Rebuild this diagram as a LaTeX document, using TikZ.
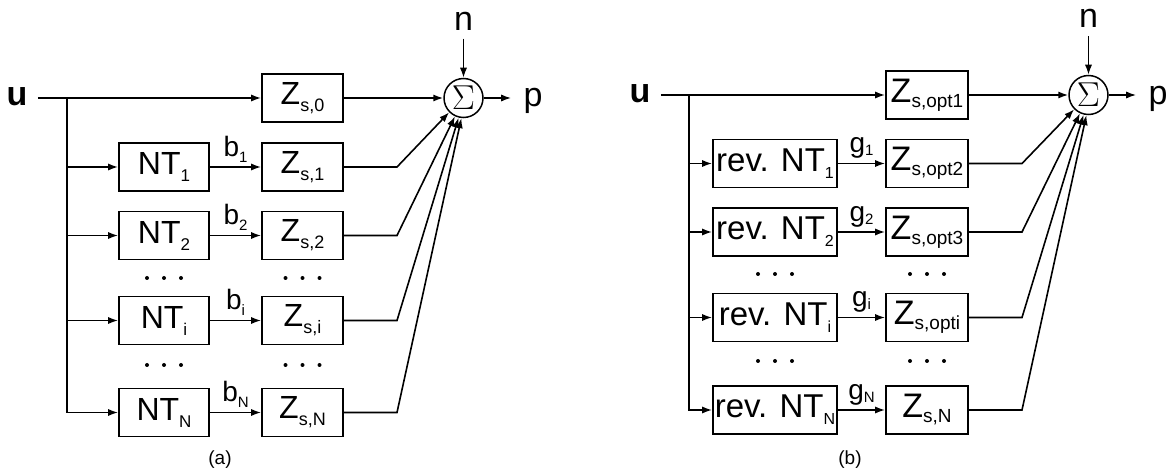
\documentclass[tikz,border=0pt]{standalone}
\usepackage{fontspec}
\setmainfont{Liberation Sans}
\usetikzlibrary{arrows.meta,calc}
\newcommand{\fs}[1]{\fontsize{#1}{#1}\selectfont}
\newcommand{\mysub}[3][3.5pt]{\raisebox{-#1}{\fs{#2}#3}}
\begin{document}
\begin{tikzpicture}[x=0.5pt,y=-0.5pt,
  box/.style={draw,line width=0.9pt,minimum height=24pt,inner sep=0pt},
  nta/.style={box,minimum width=45pt,font=\fs{16}},
  za/.style={box,minimum width=40.5pt,font=\fs{16}},
  ntb/.style={box,minimum width=62pt,font=\fs{16.5}},
  zb/.style={box,minimum width=41pt,font=\fs{17}},
  con/.style={line width=0.8pt},
  arr/.style={con,-{Latex[length=5pt,width=3.6pt]}},
  sumnode/.style={draw,circle,line width=0.75pt,minimum size=19.5pt,inner sep=0pt,font=\fs{16}},
  ulbl/.style={font=\fs{17}\bfseries,inner sep=5pt},
  nlbl/.style={font=\fs{17},inner sep=4pt},
  plbl/.style={font=\fs{17},inner sep=6pt},
  blbl/.style={font=\fs{14},above,inner sep=2pt},
  glbl/.style={font=\fs{14},above,inner sep=2pt},
  capstyle/.style={font=\fs{9.5}}
]
\useasboundingbox (0,0) rectangle (1173,470);
% ---------------- panel (a)
\node[ulbl] (ua) at (17,97) {u};
\coordinate (ja) at (67,98);
\coordinate (kxa) at (397,0);
\node[za] (z0a) at (302.5,98) {Z\mysub{9}{s,0}};
\node[nta] (nt1a) at (164,167) {NT\mysub{8.5}{1}};
\node[za] (z1a) at (302.5,167) {Z\mysub{9}{s,1}};
\node[nta] (nt2a) at (164,235.5) {NT\mysub{8.5}{2}};
\node[za] (z2a) at (302.5,235.5) {Z\mysub{9}{s,2}};
\node[nta] (ntia) at (164,320.5) {NT\mysub{8.5}{i}};
\node[za] (zia) at (302.5,320.5) {Z\mysub{9}{s,i}};
\node[nta] (ntna) at (164,412.5) {NT\mysub{8.5}{N}};
\node[za] (zna) at (302.5,412.5) {Z\mysub{9}{s,N}};
\node[sumnode] (suma) at (463.5,98) {$\Sigma$};
\node[nlbl] (na) at (463.5,21) {n};
\node[plbl] (pa) at (533,101) {p};
\node[capstyle] (capa) at (220,460) {(a)};

\draw[arr] (ua.east |- ja) -- (z0a);
\foreach \t in {nt1a,nt2a,ntia,ntna} \draw[arr] (ja) |- (\t);
\draw[arr] (nt1a) -- node[blbl]{b\mysub[3pt]{7.5}{1}} (z1a);
\draw[arr] (nt2a) -- node[blbl]{b\mysub[3pt]{7.5}{2}} (z2a);
\draw[arr] (ntia) -- node[blbl]{b\mysub[3pt]{7.5}{i}} (zia);
\draw[arr] (ntna) -- node[blbl]{b\mysub[3pt]{7.5}{N}} (zna);
\draw[arr] (z0a) -- (suma);
\draw[arr] (z1a.east) -- (z1a.east -| kxa) -- (suma.-135);
\draw[arr] (z2a.east) -- (z2a.east -| kxa) -- (suma.-115);
\draw[arr] (zia.east) -- (zia.east -| kxa) -- (suma.-104);
\draw[arr] (zna.east) -- (zna.east -| kxa) -- (suma.-96);
\draw[arr] (na) -- (suma);
\draw[arr] (suma.east) -- (suma.east -| pa.west);
\foreach \x in {147,164,181} \fill (\x,278) circle (1pt) (\x,365) circle (1pt);
\foreach \x in {285.5,302.5,319.5} \fill (\x,278) circle (1pt) (\x,365) circle (1pt);

% ---------------- panel (b)
\node[ulbl] (ub) at (640,94) {u};
\coordinate (jb) at (689,95);
\coordinate (kxb) at (1022,0);
\node[zb] (z0b) at (927,95) {Z\mysub[2.5pt]{9.5}{s,opt1}};
\node[ntb] (nt1b) at (775,163.5) {rev. NT\mysub{8}{1}};
\node[zb] (z1b) at (927,163.5) {Z\mysub[2.5pt]{9.5}{s,opt2}};
\node[ntb] (nt2b) at (775,232) {rev. NT\mysub{8}{2}};
\node[zb] (z2b) at (927,232) {Z\mysub[2.5pt]{9.5}{s,opt3}};
\node[ntb] (ntib) at (775,317.5) {rev. NT\mysub{8}{i}};
\node[zb] (zib) at (927,317.5) {Z\mysub[2.5pt]{9.5}{s,opti}};
\node[ntb] (ntnb) at (775,410) {rev. NT\mysub{8}{N}};
\node[zb] (znb) at (927,410) {Z\mysub[2.5pt]{9.5}{s,N}};
\node[sumnode] (sumb) at (1088.5,95) {$\Sigma$};
\node[nlbl] (nb) at (1088.5,18.5) {n};
\node[plbl] (pb) at (1158,99) {p};
\node[capstyle] (capb) at (850,460) {(b)};

\draw[arr] (ub.east |- jb) -- (z0b);
\foreach \t in {nt1b,nt2b,ntib,ntnb} \draw[arr] (jb) |- (\t);
\draw[arr] (nt1b) -- node[glbl]{g\mysub[1.5pt]{7.5}{1}} (z1b);
\draw[arr] (nt2b) -- node[glbl]{g\mysub[1.5pt]{7.5}{2}} (z2b);
\draw[arr] (ntib) -- node[glbl]{g\mysub[1.5pt]{7.5}{i}} (zib);
\draw[arr] (ntnb) -- node[glbl]{g\mysub[1.5pt]{7.5}{N}} (znb);
\draw[arr] (z0b) -- (sumb);
\draw[arr] (z1b.east) -- (z1b.east -| kxb) -- (sumb.-135);
\draw[arr] (z2b.east) -- (z2b.east -| kxb) -- (sumb.-115);
\draw[arr] (zib.east) -- (zib.east -| kxb) -- (sumb.-104);
\draw[arr] (znb.east) -- (znb.east -| kxb) -- (sumb.-96);
\draw[arr] (nb) -- (sumb);
\draw[arr] (sumb.east) -- (sumb.east -| pb.west);
\foreach \x in {758,775,792} \fill (\x,274) circle (1pt) (\x,361) circle (1pt);
\foreach \x in {910,927,944} \fill (\x,274) circle (1pt) (\x,361) circle (1pt);
\end{tikzpicture}
\end{document}
